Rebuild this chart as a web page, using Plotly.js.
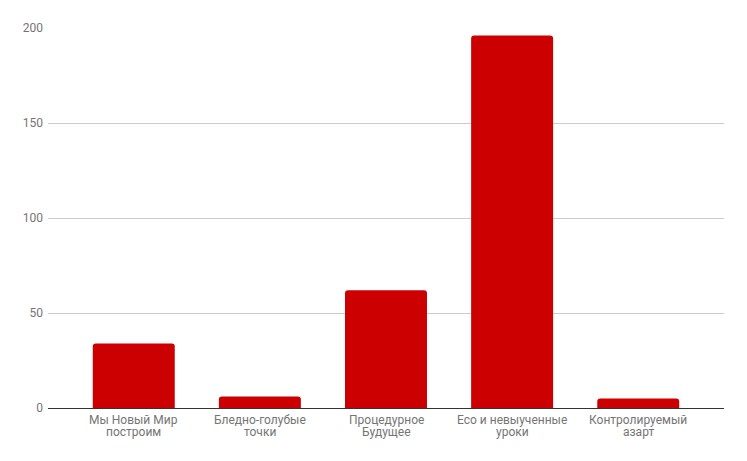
<!DOCTYPE html>
<html>
<head>
<meta charset="utf-8">
<script src="https://cdn.plot.ly/plotly-3.0.1.min.js"></script>
<style>html,body{margin:0;padding:0;background:#fff;}#chart{width:747px;height:461px;}</style>
</head>
<body>
<div id="chart"></div>
<script>
const categories = ["Мы Новый Мир построим", "Бледно-голубые точки", "Процедурное Будущее", "Eco и невыученные уроки", "Контролируемый азарт"];
const labelLine1 = ["Мы Новый Мир", "Бледно-голубые", "Процедурное", "Eco и невыученные", "Контролируемый"];
const labelLine2 = ["построим", "точки", "Будущее", "уроки", "азарт"];
const values = [34, 6, 62, 196, 5];
const yTicks = [0, 50, 100, 150, 200];

const trace = {
  type: 'bar',
  x: categories,
  y: values,
  marker: {color: '#cc0000', cornerradius: 3},
  hoverinfo: 'x+y'
};

const annotations = [];
categories.forEach((c, i) => {
  annotations.push({x: c, xref: 'x', y: 0, yref: 'paper', yanchor: 'top', yshift: -3,
    text: labelLine1[i], showarrow: false, font: {size: 12, color: '#757575'}});
  annotations.push({x: c, xref: 'x', y: 0, yref: 'paper', yanchor: 'top', yshift: -14.5,
    text: labelLine2[i], showarrow: false, font: {size: 12, color: '#757575'}});
});

const layout = {
  width: 747, height: 461,
  margin: {l: 48, r: 23, t: 28, b: 53},
  paper_bgcolor: '#fff', plot_bgcolor: '#fff',
  bargap: 0.35,
  showlegend: false,
  font: {family: 'Roboto, sans-serif', size: 12, color: '#757575'},
  xaxis: {
    type: 'category', range: [-0.68, 4.68],
    showgrid: false, showline: true, linecolor: '#333', linewidth: 1,
    ticks: '', showticklabels: false, fixedrange: true
  },
  yaxis: {
    range: [0, 200], tickvals: yTicks, ticktext: yTicks.map(String),
    showgrid: true, gridcolor: '#cccccc', zeroline: false, showline: false,
    ticks: '', ticklabelstandoff: 4, tickfont: {size: 12, color: '#757575'}, fixedrange: true
  },
  annotations: annotations
};

Plotly.newPlot('chart', [trace], layout, {displayModeBar: false, staticPlot: true});
</script>
</body>
</html>
